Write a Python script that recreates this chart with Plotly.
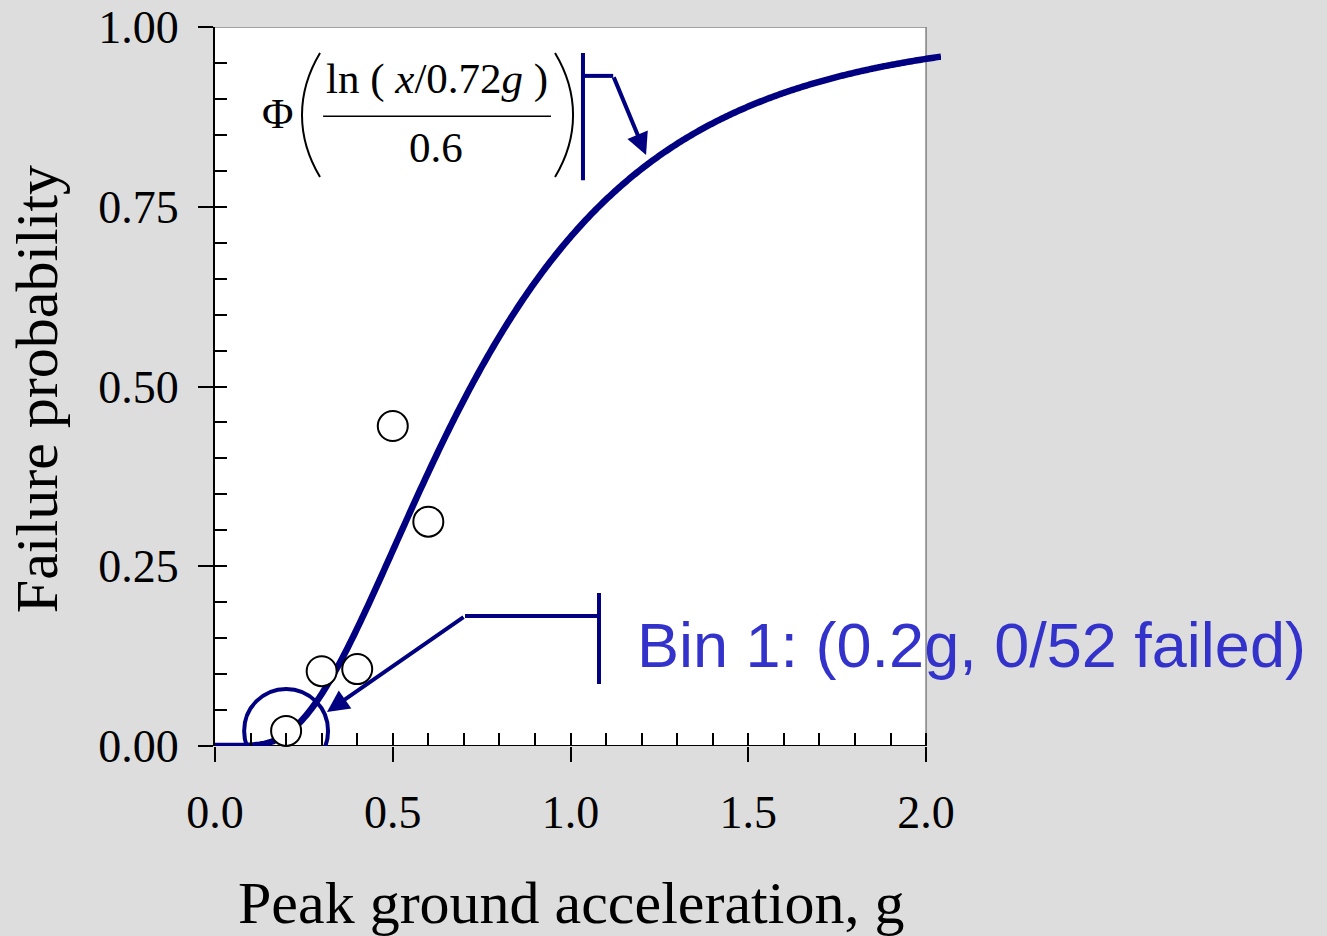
import math
import numpy as np
import plotly.graph_objects as go

# Observed bin failure fractions
pga_bins = [0.2, 0.3, 0.4, 0.5, 0.6]
fail_frac = [0.021, 0.104, 0.107, 0.445, 0.312]

# Lognormal fragility parameters (median, log-std)
median_g = 0.72
beta = 0.6

x_ticks = [0.0, 0.5, 1.0, 1.5, 2.0]
x_ticktext = ["0.0", "0.5", "1.0", "1.5", "2.0"]
y_ticks = [0.0, 0.25, 0.5, 0.75, 1.0]
y_ticktext = ["0.00", "0.25", "0.50", "0.75", "1.00"]

NAVY = "#000080"
BG = "#dddddd"
SERIF = "Liberation Serif, Times New Roman, serif"
SANS = "Liberation Sans, Arial, sans-serif"

x_end = 2.042  # curve runs slightly past the frame
xs = np.linspace(0.0, x_end, 400)
fragility = [0.0 if v <= 0 else 0.5 * (1 + math.erf(math.log(v / median_g) / (beta * math.sqrt(2)))) for v in xs]

fig = go.Figure()

fig.add_trace(go.Scatter(
    x=xs, y=fragility, mode="lines",
    line=dict(color=NAVY, width=6.5, simplify=False),
    showlegend=False, hoverinfo="skip",
))
fig.add_trace(go.Scatter(
    x=pga_bins, y=fail_frac, mode="markers",
    marker=dict(symbol="circle", size=30, color="white", line=dict(color="black", width=2)),
    showlegend=False, cliponaxis=False,
))
# carrier for the minor-tick axes
fig.add_trace(go.Scatter(x=[None], y=[None], xaxis="x2", yaxis="y2", showlegend=False, hoverinfo="skip"))

shapes = [
    # white plotting frame
    dict(type="rect", xref="x", yref="y", x0=0, x1=2.0, y0=0, y1=1.0,
         fillcolor="white", line=dict(width=0), layer="below"),
    # x axis line
    dict(type="line", xref="x", yref="y", x0=0, x1=2.0, y0=0, y1=0,
         line=dict(color="black", width=2), layer="below"),
    # top and right frame edges
    dict(type="line", xref="x", yref="y", x0=0, x1=2.0, y0=1, y1=1,
         line=dict(color="#808080", width=1.5), layer="below"),
    dict(type="line", xref="x", yref="y", x0=2.0, x1=2.0, y0=0, y1=1,
         line=dict(color="#808080", width=1.5), layer="below"),
]

# circle highlighting bin 1
r_x, r_y = 0.118, 0.0584
shapes.append(dict(type="circle", xref="x", yref="y",
                   x0=pga_bins[0] - r_x, x1=pga_bins[0] + r_x,
                   y0=fail_frac[0] - r_y, y1=fail_frac[0] + r_y,
                   line=dict(color=NAVY, width=4)))

# formula: big parentheses and fraction bar
shapes += [
    dict(type="path", xref="x", yref="y",
         path="M 0.2954,0.9638 C 0.2278,0.9082 0.2278,0.8470 0.2954,0.7914",
         line=dict(color="black", width=2)),
    dict(type="path", xref="x", yref="y",
         path="M 0.9564,0.9638 C 1.0240,0.9082 1.0240,0.8470 0.9564,0.7914",
         line=dict(color="black", width=2)),
    dict(type="line", xref="x", yref="y", x0=0.304, x1=0.945, y0=0.876, y1=0.876,
         line=dict(color="black", width=1.5)),
]

# leader for the formula
shapes += [
    dict(type="line", xref="x", yref="y", x0=1.035, x1=1.035, y0=0.964, y1=0.787,
         line=dict(color=NAVY, width=4)),
    dict(type="line", xref="x", yref="y", x0=1.035, x1=1.120, y0=0.932, y1=0.932,
         line=dict(color=NAVY, width=4)),
]
# leader for the bin label
shapes += [
    dict(type="line", xref="x", yref="y", x0=1.080, x1=1.080, y0=0.2128, y1=0.0862,
         line=dict(color=NAVY, width=4)),
    dict(type="line", xref="x", yref="y", x0=1.080, x1=0.7032, y0=0.1808, y1=0.1808,
         line=dict(color=NAVY, width=4)),
]

annotations = [
    dict(x=1.2124, y=0.822, ax=1.120, ay=0.932, xref="x", yref="y", axref="x", ayref="y",
         text="", showarrow=True, arrowhead=2, arrowsize=1.1, arrowwidth=4,
         arrowcolor=NAVY, standoff=0, startstandoff=0),
    dict(x=0.315, y=0.0473, ax=0.7032, ay=0.1808, xref="x", yref="y", axref="x", ayref="y",
         text="", showarrow=True, arrowhead=2, arrowsize=1.1, arrowwidth=4,
         arrowcolor=NAVY, standoff=0, startstandoff=0),
    # formula text
    dict(x=0.177, y=0.880, xref="x", yref="y", text="\u03a6", showarrow=False,
         font=dict(family=SERIF, size=43, color="black"), xanchor="center", yanchor="middle"),
    dict(x=0.624, y=0.928, xref="x", yref="y",
         text="ln ( <i>x</i>/0.72<i>g</i> )", showarrow=False,
         font=dict(family=SERIF, size=43, color="black"), xanchor="center", yanchor="middle"),
    dict(x=0.622, y=0.833, xref="x", yref="y", text="0.6", showarrow=False,
         font=dict(family=SERIF, size=43, color="black"), xanchor="center", yanchor="middle"),
    # bin label
    dict(x=1.182, y=0.1405, xref="x", yref="y", text="Bin 1: (0.2g, 0/52 failed)",
         showarrow=False, font=dict(family=SANS, size=63, color="#3333cc"),
         xanchor="left", yanchor="middle"),
    # axis titles
    dict(x=0.490, y=-0.218, xref="paper", yref="paper", text="Peak ground acceleration, g",
         showarrow=False, font=dict(family=SERIF, size=60, color="black"),
         xanchor="center", yanchor="middle"),
    dict(x=-0.245, y=0.4965, xref="paper", yref="paper", text="Failure probability",
         showarrow=False, textangle=-90, font=dict(family=SERIF, size=60, color="black"),
         xanchor="center", yanchor="middle"),
]

tick_font = dict(family=SERIF, size=46, color="black")

fig.update_layout(
    width=1327, height=936,
    margin=dict(l=215, r=386, t=27, b=190, pad=0, autoexpand=False),
    paper_bgcolor=BG, plot_bgcolor=BG,
    showlegend=False,
    shapes=shapes, annotations=annotations,
    xaxis=dict(range=[0, x_end], tickmode="array", tickvals=x_ticks, ticktext=x_ticktext,
               ticks="outside", ticklen=15, tickwidth=2, tickcolor="black",
               tickfont=tick_font, ticklabelstandoff=11, automargin=False,
               showline=False, showgrid=False, zeroline=False, fixedrange=True),
    yaxis=dict(range=[0, 1.0], tickmode="array", tickvals=y_ticks, ticktext=y_ticktext,
               ticks="outside", ticklen=15, tickwidth=2, tickcolor="black",
               tickfont=tick_font, ticklabelstandoff=10, automargin=False,
               showline=True, linecolor="black", linewidth=2,
               showgrid=False, zeroline=False, fixedrange=True),
    xaxis2=dict(range=[0, x_end], overlaying="x", anchor="y", side="bottom",
                tickmode="linear", tick0=0, dtick=0.1, ticks="inside", ticklen=13,
                tickwidth=2, tickcolor="black", showticklabels=False, automargin=False,
                showline=False, showgrid=False, zeroline=False),
    yaxis2=dict(range=[0, 1.0], overlaying="y", anchor="x", side="left",
                tickmode="linear", tick0=0, dtick=0.05, ticks="inside", ticklen=12,
                tickwidth=2, tickcolor="black", showticklabels=False, automargin=False,
                showline=False, showgrid=False, zeroline=False),
)

fig.write_html("out.html")
